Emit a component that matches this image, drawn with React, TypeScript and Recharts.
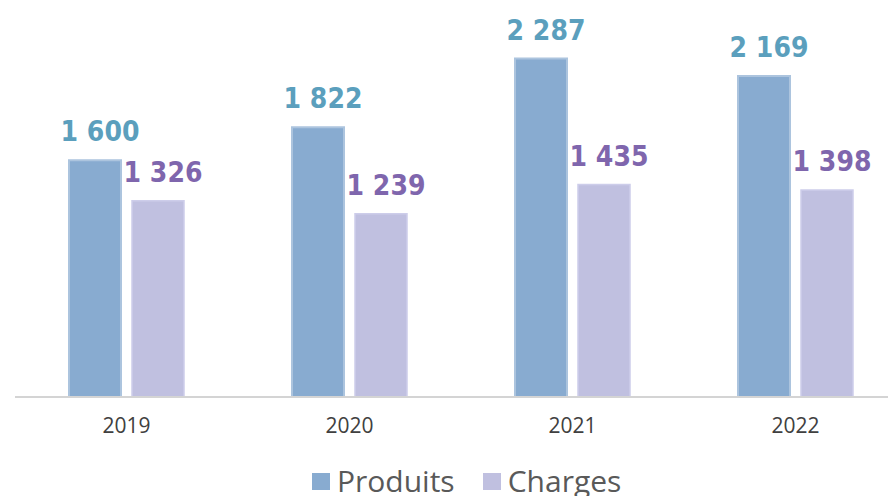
import React from "react";
import { BarChart, Bar, XAxis, YAxis, LabelList } from "recharts";

const years = ["2019", "2020", "2021", "2022"];
const produits = [1600, 1822, 2287, 2169];
const charges = [1326, 1239, 1435, 1398];

const data = years.map((y, i) => ({ year: y, produits: produits[i], charges: charges[i] }));

const fmt = (v: number) => String(v).replace(/\B(?=(\d{3})+(?!\d))/g, " ");

const makeLabel = (color: string) => (props: any) => {
  const { x, y, width, value } = props;
  return (
    <text
      x={x + width / 2 + 5}
      y={y - 19}
      textAnchor="middle"
      fill={color}
      style={{ fontFamily: "'DejaVu Sans Condensed', 'DejaVu Sans', sans-serif", fontStretch: "condensed", fontWeight: 700, fontSize: 28 }}
    >
      {fmt(value)}
    </text>
  );
};

export default function App() {
  return (
    <div style={{ position: "absolute", left: 0, top: 0, width: 888, height: 496, overflow: "hidden", background: "#fff" }}>
      <BarChart
        width={907}
        height={496}
        data={data}
        margin={{ top: 27, right: 0, bottom: 69, left: 15 }}
        barSize={52}
        barGap={11}
      >
        <YAxis hide domain={[0, 2500]} />
        <XAxis
          dataKey="year"
          tickLine={false}
          tickMargin={15}
          axisLine={{ stroke: "#d4d4d4", strokeWidth: 2 }}
          tick={{ fill: "#404040", fontSize: 21, fontFamily: "'Open Sans', sans-serif" }}
        />
        <Bar dataKey="produits" fill="#88abd0" stroke="#acc4de" strokeWidth={2} isAnimationActive={false}>
          <LabelList dataKey="produits" content={makeLabel("#5b9fbd")} />
        </Bar>
        <Bar dataKey="charges" fill="#c0c0e0" stroke="#cdcdea" strokeWidth={1.5} isAnimationActive={false}>
          <LabelList dataKey="charges" content={makeLabel("#7f66ad")} />
        </Bar>
      </BarChart>
      <div
        style={{
          position: "absolute",
          left: 312,
          top: 461,
          display: "flex",
          alignItems: "center",
          fontFamily: "'Open Sans', sans-serif",
          fontSize: 30,
          color: "#595959",
          whiteSpace: "nowrap",
          lineHeight: "40px",
        }}
      >
        <span style={{ display: "inline-block", width: 18, height: 17, background: "#88abd0", marginRight: 7 }} />
        <span>Produits</span>
        <span style={{ display: "inline-block", width: 18, height: 17, background: "#c0c0e0", marginLeft: 28, marginRight: 7 }} />
        <span>Charges</span>
      </div>
    </div>
  );
}
